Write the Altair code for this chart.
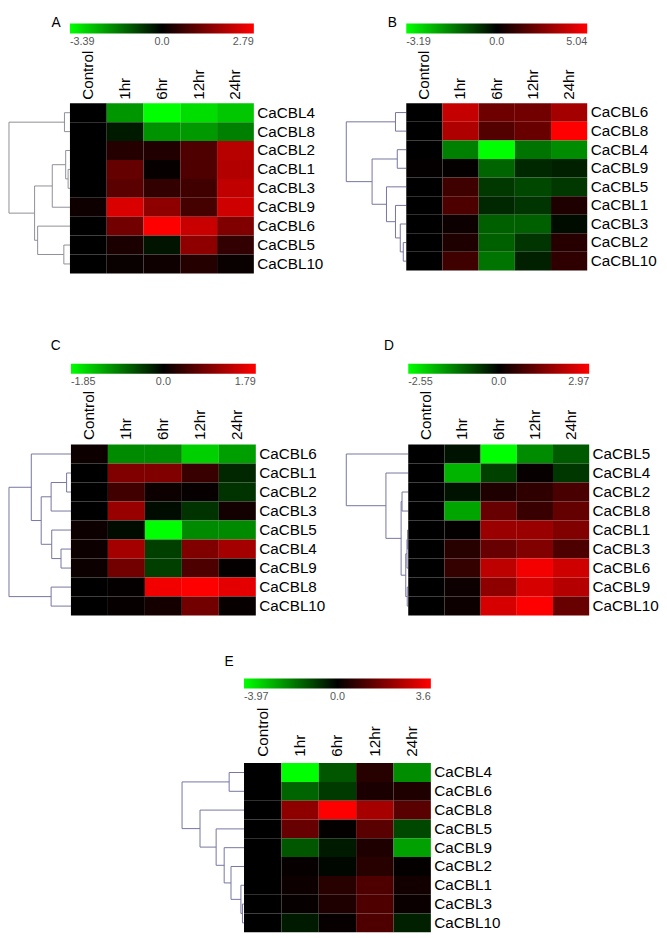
import altair as alt
import pandas as pd

COLUMNS = ["Control", "1hr", "6hr", "12hr", "24hr"]

# ---------------- Panel A ----------------
A_GENES = ["CaCBL4", "CaCBL8", "CaCBL2", "CaCBL1", "CaCBL3", "CaCBL9", "CaCBL6", "CaCBL5", "CaCBL10"]
A_VALUES = [
    [0.00, -2.00, -3.39, -2.95, -2.65],
    [0.00, -0.35, -1.95, -2.05, -1.70],
    [0.00, 0.40, 0.35, 0.85, 2.00],
    [0.00, 1.10, 0.08, 0.85, 1.95],
    [0.00, 1.00, 0.55, 0.70, 2.10],
    [0.15, 2.40, 1.55, 0.75, 2.25],
    [0.00, 1.25, 2.79, 2.20, 1.40],
    [0.00, 0.30, -0.27, 1.55, 0.55],
    [0.00, 0.10, 0.15, 0.40, 0.10],
]
A_RANGE = [-3.39, 2.79]
A_TREE = [
    ("CaCBL4", "CaCBL8", 0.09),
    ("CaCBL1", "CaCBL3", 0.03),
    ("CaCBL2", "m1", 0.07),
    ("m2", "CaCBL9", 0.29),
    ("CaCBL5", "CaCBL10", 0.10),
    ("CaCBL6", "m4", 0.53),
    ("m3", "m5", 0.58),
    ("m0", "m6", 1.00),
]

# ---------------- Panel B ----------------
B_GENES = ["CaCBL6", "CaCBL8", "CaCBL4", "CaCBL9", "CaCBL5", "CaCBL1", "CaCBL3", "CaCBL2", "CaCBL10"]
B_VALUES = [
    [0.00, 3.90, 2.20, 2.25, 3.25],
    [0.00, 3.45, 1.65, 2.05, 5.04],
    [0.00, -1.60, -3.19, -1.45, -1.75],
    [0.10, 0.10, -1.25, -0.50, -0.40],
    [0.00, 1.25, -0.70, -0.90, -0.70],
    [0.00, 1.50, -0.50, -0.65, 0.60],
    [0.00, 0.25, -1.20, -1.20, -0.15],
    [0.00, 0.60, -1.20, -0.65, 0.75],
    [0.00, 1.25, -1.45, -0.40, 0.90],
]
B_RANGE = [-3.19, 5.04]
B_TREE = [
    ("CaCBL6", "CaCBL8", 0.18),
    ("CaCBL4", "CaCBL9", 0.15),
    ("CaCBL2", "CaCBL10", 0.05),
    ("CaCBL3", "m2", 0.10),
    ("CaCBL1", "m3", 0.18),
    ("CaCBL5", "m4", 0.33),
    ("m1", "m5", 0.57),
    ("m0", "m6", 1.00),
]

# ---------------- Panel C ----------------
C_GENES = ["CaCBL6", "CaCBL1", "CaCBL2", "CaCBL3", "CaCBL5", "CaCBL4", "CaCBL9", "CaCBL8", "CaCBL10"]
C_VALUES = [
    [0.09, -1.00, -1.00, -1.50, -1.15],
    [0.00, 0.90, 0.90, 0.40, -0.28],
    [0.00, 0.45, 0.09, 0.05, -0.37],
    [0.00, 1.07, -0.09, -0.37, 0.13],
    [0.09, -0.09, -1.85, -1.00, -1.00],
    [0.09, 1.16, -0.46, 0.90, 1.16],
    [0.09, 0.80, -0.46, 0.54, 0.03],
    [0.00, 0.03, 1.70, 1.79, 1.60],
    [0.00, 0.05, 0.15, 0.80, 0.05],
]
C_RANGE = [-1.85, 1.79]
C_TREE = [
    ("CaCBL1", "CaCBL2", 0.07),
    ("m0", "CaCBL3", 0.32),
    ("CaCBL4", "CaCBL9", 0.16),
    ("CaCBL5", "m2", 0.31),
    ("m1", "m3", 0.48),
    ("CaCBL6", "m4", 0.64),
    ("CaCBL8", "CaCBL10", 0.32),
    ("m5", "m6", 1.00),
]

# ---------------- Panel D ----------------
D_GENES = ["CaCBL5", "CaCBL4", "CaCBL2", "CaCBL8", "CaCBL1", "CaCBL3", "CaCBL6", "CaCBL9", "CaCBL10"]
D_VALUES = [
    [0.00, -0.18, -2.55, -1.40, -0.90],
    [0.00, -1.80, -0.65, 0.08, -0.55],
    [0.00, -0.18, 0.35, 0.55, 0.85],
    [0.00, -1.65, 1.20, 0.65, 1.15],
    [0.00, 0.05, 1.80, 1.80, 1.50],
    [0.00, 0.45, 1.20, 1.50, 0.90],
    [0.00, 0.60, 2.20, 2.85, 2.40],
    [0.00, 0.15, 1.65, 2.50, 2.10],
    [0.00, 0.15, 2.50, 2.97, 1.20],
]
D_RANGE = [-2.55, 2.97]
D_TREE = [
    ("CaCBL2", "CaCBL8", 0.10),
    ("CaCBL1", "CaCBL3", 0.01),
    ("m1", "CaCBL6", 0.02),
    ("CaCBL9", "CaCBL10", 0.016),
    ("m2", "m3", 0.04),
    ("m0", "m4", 0.115),
    ("CaCBL4", "m5", 0.36),
    ("CaCBL5", "m6", 1.00),
]

# ---------------- Panel E ----------------
E_GENES = ["CaCBL4", "CaCBL6", "CaCBL8", "CaCBL5", "CaCBL9", "CaCBL2", "CaCBL1", "CaCBL3", "CaCBL10"]
E_VALUES = [
    [0.00, -3.97, -1.35, 0.55, -2.20],
    [0.00, -1.55, -0.90, 0.36, 0.43],
    [0.00, 2.00, 3.60, 2.35, 1.25],
    [0.00, 1.45, 0.07, 1.25, -1.10],
    [0.00, -1.35, -0.40, 0.43, -2.50],
    [0.00, 0.10, -0.10, 0.55, 0.05],
    [0.00, 0.18, 0.55, 1.10, 0.25],
    [0.00, 0.10, 0.43, 1.10, 0.14],
    [0.00, -0.40, 0.10, 1.10, -0.50],
]
E_RANGE = [-3.97, 3.6]
E_TREE = [
    ("CaCBL4", "CaCBL6", 0.24),
    ("CaCBL3", "CaCBL10", 0.025),
    ("CaCBL1", "m1", 0.05),
    ("CaCBL2", "m2", 0.21),
    ("CaCBL9", "m3", 0.32),
    ("CaCBL5", "m4", 0.45),
    ("CaCBL8", "m5", 0.71),
    ("m0", "m6", 1.00),
]

FONT = "Liberation Sans"
LABEL_SIZE = 15.5
COLOR_SCALE = alt.Scale(domain=[-1, 0, 1], range=["#00ff00", "#000000", "#ff0000"], interpolate="rgb")


def heat_df(genes, values, rng):
    lo, hi = rng
    rows = []
    for g, vals in zip(genes, values):
        for c, v in zip(COLUMNS, vals):
            if v > 0:
                t = v / hi
            elif v < 0:
                t = v / (-lo)
            else:
                t = 0.0
            rows.append({"gene": g, "time": c, "value": v, "t": t})
    return pd.DataFrame(rows)


def dendro_df(genes, tree):
    pos = {g: (float(i), 0.0) for i, g in enumerate(genes)}
    segs = []
    for k, (a, b, h) in enumerate(tree):
        ya, ha = pos[a]
        yb, hb = pos[b]
        segs.append({"x": h, "x2": h, "y": ya, "y2": yb})
        segs.append({"x": ha, "x2": h, "y": ya, "y2": ya})
        segs.append({"x": hb, "x2": h, "y": yb, "y2": yb})
        pos[f"m{k}"] = ((ya + yb) / 2.0, h)
    return pd.DataFrame(segs)


def dendro_chart(genes, tree, w, h, color, letter, t_offset, t_dx):
    title = alt.TitleParams(text=letter, anchor="end", dx=t_dx, fontSize=14, fontWeight="normal",
                            offset=t_offset, color="black", font=FONT)
    return alt.Chart(dendro_df(genes, tree), title=title).mark_rule(color=color, strokeWidth=1).encode(
        x=alt.X("x:Q", scale=alt.Scale(domain=[0, 1], reverse=True, nice=False, zero=False), axis=None),
        x2="x2:Q",
        y=alt.Y("y:Q", scale=alt.Scale(domain=[-0.5, 8.5], reverse=True, nice=False, zero=False), axis=None),
        y2="y2:Q",
    ).properties(width=w, height=h)


def heat_chart(genes, values, rng, w, h, label_pad, legend_offset):
    lo, hi = rng
    expr = f"datum.value < 0 ? '{lo:g}' : (datum.value > 0 ? '{hi:g}' : '0.0')"
    return alt.Chart(heat_df(genes, values, rng)).mark_rect().encode(
        x=alt.X("time:N", sort=COLUMNS, scale=alt.Scale(paddingInner=0, paddingOuter=0),
                axis=alt.Axis(orient="top", labelAngle=270, title=None, ticks=False, domain=False,
                              labelFontSize=LABEL_SIZE, labelPadding=label_pad, labelColor="black",
                              labelFont=FONT)),
        y=alt.Y("gene:N", sort=genes, scale=alt.Scale(paddingInner=0, paddingOuter=0),
                axis=alt.Axis(orient="right", title=None, ticks=False, domain=False,
                              labelFontSize=LABEL_SIZE, labelPadding=3, labelColor="black",
                              labelFont=FONT)),
        color=alt.Color("t:Q", scale=COLOR_SCALE,
                        legend=alt.Legend(type="gradient", orient="top", direction="horizontal", title=None,
                                          gradientLength=w, gradientThickness=10, values=[-1, 0, 1],
                                          labelExpr=expr, labelFontSize=11, labelColor="#555555",
                                          labelFont=FONT, offset=legend_offset, labelOffset=3, padding=0,
                                          gradientStrokeWidth=0)),
    ).properties(width=w, height=h)


def panel(genes, values, rng, tree, dw, w, h, letter, t_offset, t_dx, label_pad, legend_offset, dcolor):
    return alt.hconcat(
        dendro_chart(genes, tree, dw, h, dcolor, letter, t_offset, t_dx),
        heat_chart(genes, values, rng, w, h, label_pad, legend_offset),
        spacing=0, bounds="flush",
    ).resolve_scale(color="independent")


GRAY = "#8e8e98"
BLUE = "#7474a0"

pA = panel(A_GENES, A_VALUES, A_RANGE, A_TREE, 62, 187, 173, "A", 75, -10, 4, 3, GRAY)
pB = panel(B_GENES, B_VALUES, B_RANGE, B_TREE, 61, 184, 170, "B", 75, -10, 4, 3, BLUE)
pC = panel(C_GENES, C_VALUES, C_RANGE, C_TREE, 63, 188, 174, "C", 93, -11, 5, 3, BLUE)
pD = panel(D_GENES, D_VALUES, D_RANGE, D_TREE, 63, 184, 174, "D", 93, -15, 5, 3, BLUE)
pE = panel(E_GENES, E_VALUES, E_RANGE, E_TREE, 63, 190, 172, "E", 96, -11, 7, 5, BLUE)

spacer = alt.Chart(pd.DataFrame({"v": [0]})).mark_point(opacity=0).encode(
    x=alt.X("v:Q", axis=None), y=alt.Y("v:Q", axis=None)
).properties(width=175, height=1)

row1 = alt.hconcat(pA, pB, spacing=22).resolve_scale(color="independent")
row2 = alt.hconcat(pC, pD, spacing=20).resolve_scale(color="independent")
row3 = alt.hconcat(spacer, pE, spacing=0).resolve_scale(color="independent")

upper = alt.vconcat(row1, row2, spacing=67).resolve_scale(color="independent")
chart = alt.vconcat(upper, row3, spacing=40).resolve_scale(
    color="independent"
).properties(padding=0).configure(font=FONT).configure_view(stroke=None)

chart.save("out.html", embed_options={"renderer": "svg", "actions": False})
